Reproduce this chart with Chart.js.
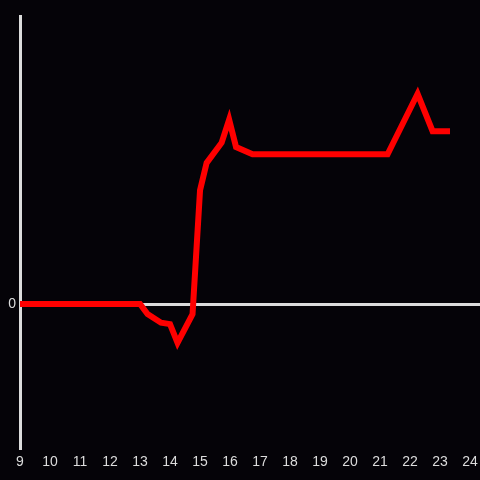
<!DOCTYPE html>
<html>
<head>
<meta charset="utf-8">
<script src="https://cdn.jsdelivr.net/npm/chart.js@4"></script>
<style>
  html, body { margin: 0; padding: 0; background: #050308; }
  #wrap { width: 480px; height: 480px; }
</style>
</head>
<body>
<div id="wrap"><canvas id="chart"></canvas></div>
<script>
// hour of day and value
var hours  = [9, 13.0, 13.25, 13.7, 14.0, 14.25, 14.75, 15.0, 15.22, 15.72, 15.97, 16.2, 16.75, 21.25, 22.25, 22.75, 23.33];
var values = [0, 0, -0.07, -0.13, -0.14, -0.27, -0.07, 0.79, 0.98, 1.12, 1.28, 1.09, 1.04, 1.04, 1.46, 1.2, 1.2];
var xTicks = [9, 10, 11, 12, 13, 14, 15, 16, 17, 18, 19, 20, 21, 22, 23, 24];

var axisColor = '#dcdcdc';

var points = hours.map(function(h, i) { return { x: h, y: values[i] }; });

var ctx = document.getElementById('chart');
new Chart(ctx, {
	type: 'line',
	data: {
		datasets: [{
			data: points,
			borderColor: '#ff0000',
			borderWidth: 6,
			borderJoinStyle: 'miter',
			pointRadius: 0,
			tension: 0,
			fill: false
		}]
	},
	options: {
		responsive: true,
		maintainAspectRatio: false,
		animation: false,
		layout: { padding: { top: 16, right: 0, left: 0, bottom: 0 } },
		plugins: { legend: { display: false }, tooltip: { enabled: false } },
		scales: {
			x: {
				type: 'linear',
				min: 9,
				max: 24.33,
				afterBuildTicks: function(axis) {
					axis.ticks = xTicks.map(function(v) { return { value: v }; });
				},
				afterFit: function(axis) {
					axis.height = 32;
					axis.paddingLeft = 0;
					axis.paddingRight = 0;
				},
				grid: { display: false, drawTicks: false },
				border: { display: false },
				ticks: { color: axisColor, font: { family: 'Liberation Sans', size: 14 }, maxRotation: 0, autoSkip: false, padding: 6 }
			},
			y: {
				min: -1,
				max: 2,
				afterBuildTicks: function(axis) { axis.ticks = [{ value: 0 }]; },
				afterFit: function(axis) { axis.width = 20; },
				grid: {
					drawTicks: false,
					lineWidth: 3,
					color: function(c) { return c.tick && c.tick.value === 0 ? axisColor : 'rgba(0,0,0,0)'; }
				},
				border: { display: true, color: axisColor, width: 3 },
				ticks: { color: axisColor, font: { family: 'Liberation Sans', size: 14 }, padding: 4 }
			}
		}
	}
});
</script>
</body>
</html>
